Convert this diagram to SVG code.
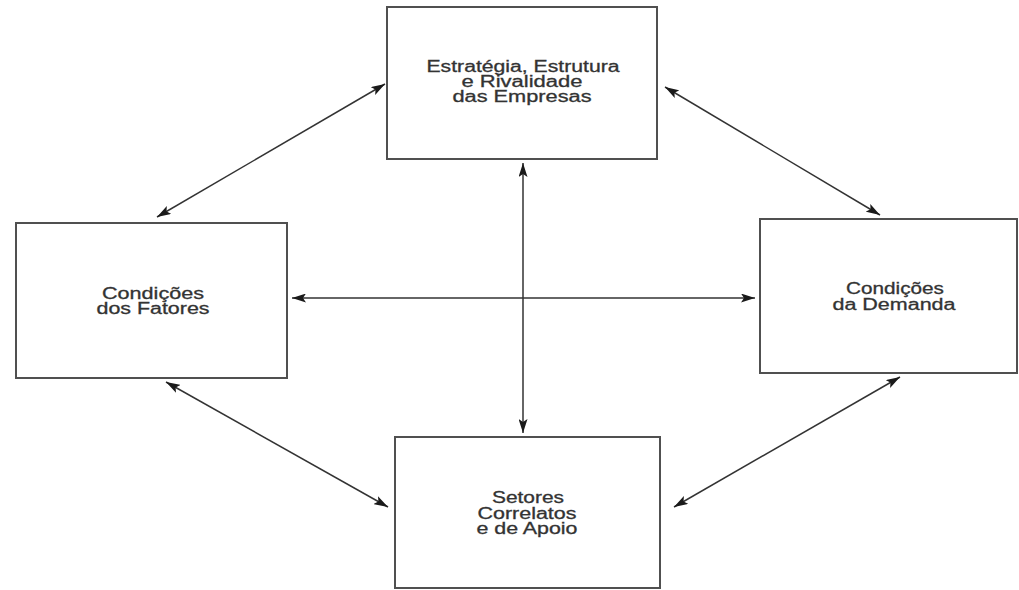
<svg xmlns="http://www.w3.org/2000/svg" width="1019" height="590" viewBox="0 0 1019 590">
  <defs>
    <marker id="ah" viewBox="0 0 14 9" refX="14" refY="4.5" markerWidth="14" markerHeight="9" markerUnits="userSpaceOnUse" orient="auto-start-reverse">
      <path d="M0,0 L14,4.5 L0,9 L3,4.5 Z" fill="#1a1a1a"/>
    </marker>
  </defs>
  <style>
    .box { fill: #ffffff; stroke: #505050; stroke-width: 2; }
    .lbl { font-family: "Liberation Sans", Arial, sans-serif; font-size: 16px; fill: #333333; stroke: #333333; stroke-width: 0.3; text-anchor: middle; }
    .con { stroke: #333; stroke-width: 1.5; fill: none; marker-start: url(#ah); marker-end: url(#ah); }
  </style>
  <rect width="1019" height="590" fill="#ffffff"/>
  <g id="estrategia">
    <rect class="box" x="387" y="7" width="270" height="152"/>
    <text class="lbl" x="523" y="72" textLength="193" lengthAdjust="spacingAndGlyphs">Estratégia, Estrutura</text>
    <text class="lbl" x="522" y="87" textLength="121" lengthAdjust="spacingAndGlyphs">e Rivalidade</text>
    <text class="lbl" x="522" y="102" textLength="139" lengthAdjust="spacingAndGlyphs">das Empresas</text>
  </g>
  <g id="fatores">
    <rect class="box" x="16" y="223" width="271" height="155"/>
    <text class="lbl" x="153" y="299" textLength="102" lengthAdjust="spacingAndGlyphs">Condições</text>
    <text class="lbl" x="153" y="314" textLength="113" lengthAdjust="spacingAndGlyphs">dos Fatores</text>
  </g>
  <g id="demanda">
    <rect class="box" x="760" y="219" width="257" height="154"/>
    <text class="lbl" x="895" y="294" textLength="98" lengthAdjust="spacingAndGlyphs">Condições</text>
    <text class="lbl" x="894" y="310" textLength="123" lengthAdjust="spacingAndGlyphs">da Demanda</text>
  </g>
  <g id="setores">
    <rect class="box" x="395" y="437" width="265" height="151"/>
    <text class="lbl" x="528" y="503" textLength="72" lengthAdjust="spacingAndGlyphs">Setores</text>
    <text class="lbl" x="527" y="519" textLength="99" lengthAdjust="spacingAndGlyphs">Correlatos</text>
    <text class="lbl" x="527" y="534" textLength="101" lengthAdjust="spacingAndGlyphs">e de Apoio</text>
  </g>
  <g id="connectors">
    <line class="con" x1="385" y1="84" x2="157" y2="217"/>
    <line class="con" x1="665" y1="87" x2="880" y2="215"/>
    <line class="con" x1="523" y1="163" x2="523" y2="433"/>
    <line class="con" x1="292" y1="298" x2="755" y2="298"/>
    <line class="con" x1="166" y1="382" x2="388" y2="507"/>
    <line class="con" x1="900" y1="377" x2="674" y2="507"/>
  </g>
</svg>
